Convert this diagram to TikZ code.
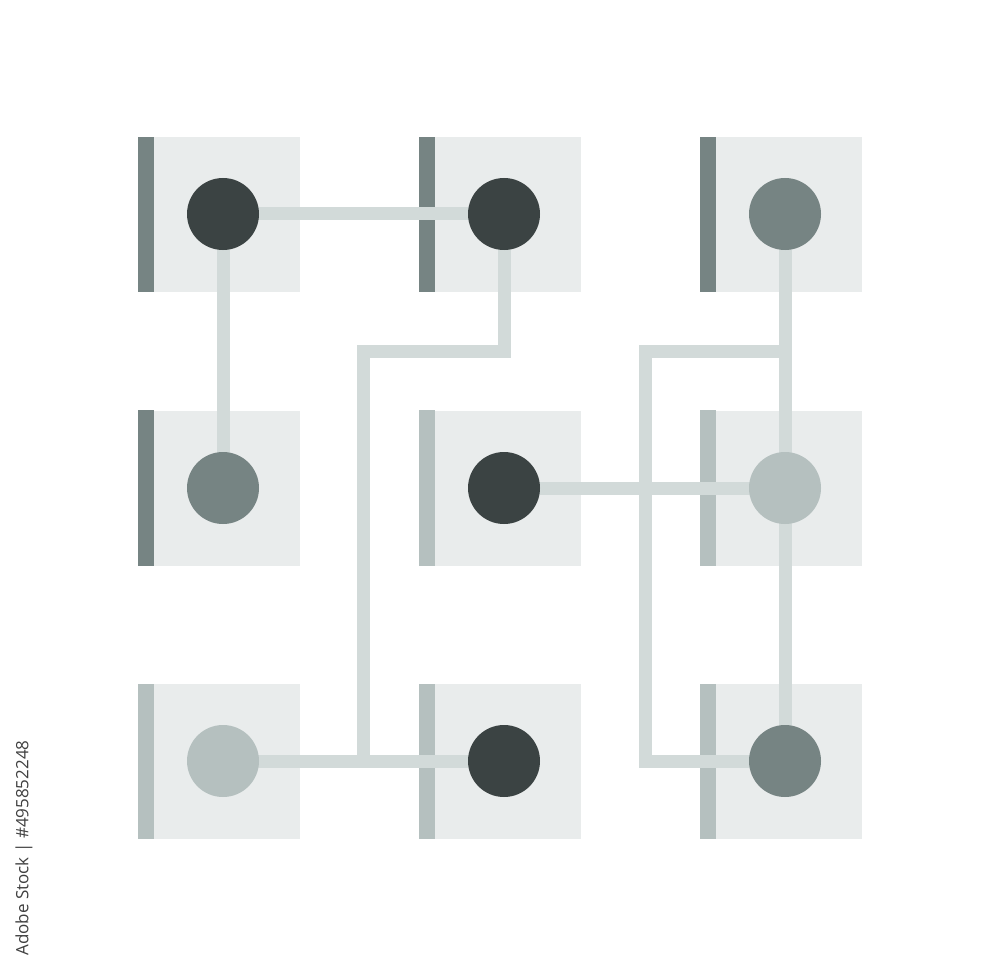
\documentclass[tikz,border=0pt]{standalone}
\usepackage{fontspec}
\newfontfamily\idfont{Open Sans}
\pgfdeclarelayer{sq}
\pgfdeclarelayer{ln}
\pgfsetlayers{sq,ln,main}
\definecolor{cdark}{HTML}{3B4343}
\definecolor{cmid}{HTML}{768483}
\definecolor{clight}{HTML}{B5C0BF}
\definecolor{csq}{HTML}{E9ECEC}
\definecolor{cline}{HTML}{D2DAD9}
\begin{document}
\begin{tikzpicture}[x=1pt,y=-1pt,
  tile/.style={rectangle,fill=csq,draw=none,minimum width=162pt,minimum height=155pt,inner sep=0pt},
  dot/.style={circle,draw=none,minimum size=72pt,inner sep=0pt},
  wire/.style={draw=cline,line width=13pt,line join=miter}]
\useasboundingbox (0,0) rectangle (1000,976);
% tiles and side bars
\begin{pgfonlayer}{sq}
\fill[white] (0,0) rectangle (1000,976);
\foreach \i/\x in {1/219,2/500,3/781}{
  \foreach \j/\y in {1/214.5,2/488,3/761.5}{
    \node[tile] (t\j\i) at (\x,\y) {};
  }
}
\foreach \t/\c in {t11/cmid,t12/cmid,t13/cmid,t21/cmid,t22/clight,t23/clight,t31/clight,t32/clight,t33/clight}{
  \fill[\c] (\t.north west) rectangle ([xshift=16pt]\t.south west);
}
\end{pgfonlayer}
% dots
\node[dot,fill=cdark]  (c11) at (223,214) {};
\node[dot,fill=cdark]  (c12) at (504,214) {};
\node[dot,fill=cmid]   (c13) at (785,214) {};
\node[dot,fill=cmid]   (c21) at (223,488) {};
\node[dot,fill=cdark]  (c22) at (504,488) {};
\node[dot,fill=clight] (c23) at (785,488) {};
\node[dot,fill=clight] (c31) at (223,761) {};
\node[dot,fill=cdark]  (c32) at (504,761) {};
\node[dot,fill=cmid]   (c33) at (785,761) {};
\coordinate (k1) at (363.5,351);
\coordinate (k2) at (645,351);
% wires
\begin{pgfonlayer}{ln}
\draw[wire] (c11.center) -- (c12.center);
\draw[wire] (c11.center) -- (c21.center);
\draw[wire] (c12.center) -- (c12.center |- k1) -- (k1) -- (k1 |- c31.center);
\draw[wire] (c31.center) -- (c32.center);
\draw[wire] (c13.center) -- (c33.center);
\draw[wire] (c13.center |- k2) -- (k2) -- (k2 |- c33.center) -- (c33.center);
\draw[wire] (c22.center) -- (c23.center);
\end{pgfonlayer}
% stock id
\node[rotate=90,text=black!75,font=\idfont\fontsize{17}{20}\selectfont,inner sep=0pt] (sid) at (24,848) {Adobe Stock | \#495852248};
\end{tikzpicture}
\end{document}
